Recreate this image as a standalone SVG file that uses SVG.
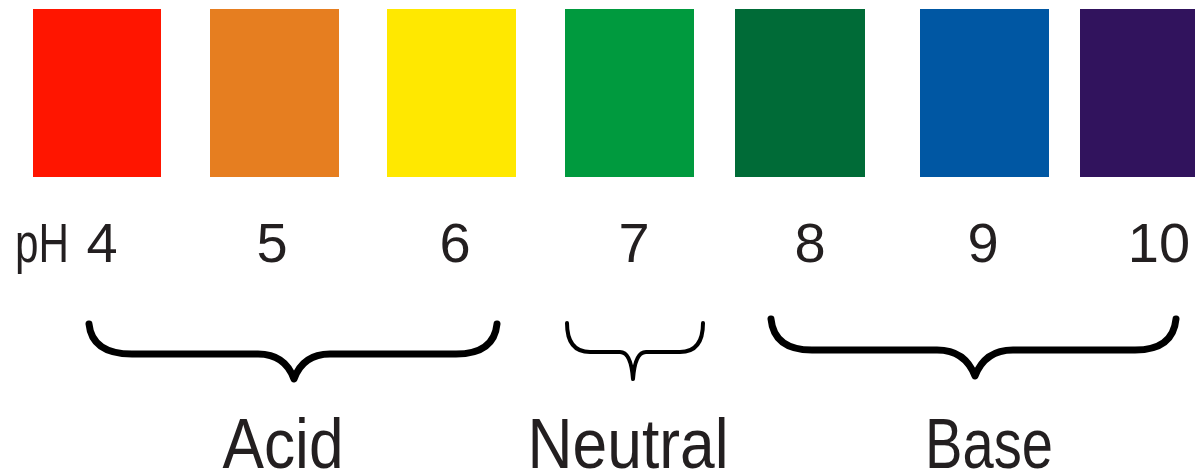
<svg xmlns="http://www.w3.org/2000/svg" width="1195" height="472" viewBox="0 0 1195 472">
<style>
.sw{stroke:none}
.num{font-family:"Liberation Sans",Arial,sans-serif;font-size:56px;fill:#231f20;text-anchor:middle}
.lbl{font-family:"Liberation Sans",Arial,sans-serif;font-size:70px;fill:#231f20;text-anchor:middle}
.brace{fill:none;stroke:#000;stroke-linecap:round;stroke-linejoin:round}
</style>
<rect width="1195" height="472" fill="#fff"/>
<g id="ph4"><rect class="sw" x="33" y="9" width="128" height="168" fill="#ff1500"/><text class="num" x="102" y="262">4</text></g>
<g id="ph5"><rect class="sw" x="210" y="9" width="129" height="168" fill="#e67e20"/><text class="num" x="272" y="262">5</text></g>
<g id="ph6"><rect class="sw" x="387" y="9" width="129" height="168" fill="#ffe800"/><text class="num" x="455" y="262">6</text></g>
<g id="ph7"><rect class="sw" x="565" y="9" width="129" height="168" fill="#009a3e"/><text class="num" x="634" y="262">7</text></g>
<g id="ph8"><rect class="sw" x="735" y="9" width="130" height="168" fill="#006b37"/><text class="num" x="810" y="262">8</text></g>
<g id="ph9"><rect class="sw" x="920" y="9" width="129" height="168" fill="#0057a3"/><text class="num" x="983" y="262">9</text></g>
<g id="ph10"><rect class="sw" x="1080" y="9" width="115" height="168" fill="#31135d"/><text class="num" x="1159" y="262">10</text></g>
<g id="phlabel"><text class="num" x="42" y="262" textLength="54" lengthAdjust="spacingAndGlyphs">pH</text></g>
<g id="connectors">
<path class="brace" stroke-width="7" d="M 89 324 Q 92 354 132 354 L 258 354 Q 285 354 294 379 Q 303 354 330 354 L 456 354 Q 494 354 497 324"/>
<path class="brace" stroke-width="4" d="M 567 323 Q 567 352 590 352 L 620 352 Q 631 352 633 379 Q 635 352 646 352 L 680 352 Q 703 352 703 323"/>
<path class="brace" stroke-width="7" d="M 771 319 Q 774 350 812 350 L 937 350 Q 965 350 975 376 Q 985 350 1013 350 L 1135 350 Q 1173 350 1176 319"/>
</g>
<g id="acid"><text class="lbl" x="283" y="468" textLength="121" lengthAdjust="spacingAndGlyphs">Acid</text></g>
<g id="neutral"><text class="lbl" x="628" y="468" textLength="201" lengthAdjust="spacingAndGlyphs">Neutral</text></g>
<g id="base"><text class="lbl" x="989" y="468" textLength="128" lengthAdjust="spacingAndGlyphs">Base</text></g>
</svg>
